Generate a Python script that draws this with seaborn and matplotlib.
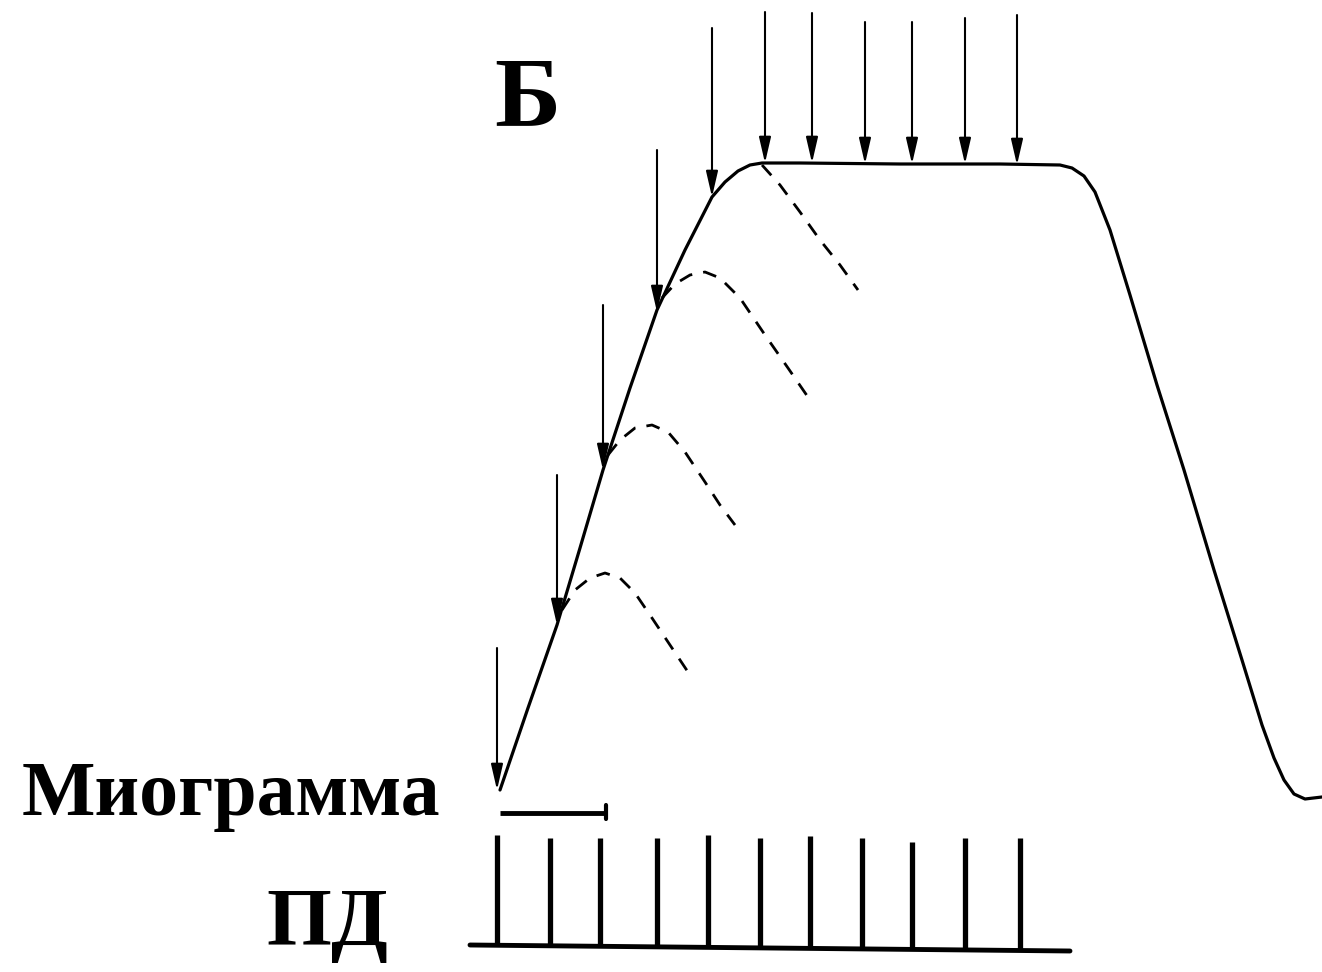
import matplotlib
matplotlib.use("Agg")
import seaborn as sns
import matplotlib.pyplot as plt

sns.set_theme(style="white")
plt.rcParams['font.family'] = ['Liberation Serif', 'DejaVu Serif']

# all coordinates are in image units (x right, y down), 1322 x 972
# myogram: summed tetanic contraction
myo_x = [500, 528, 557, 580, 603, 630, 657, 685, 712, 725, 738, 750, 762, 800, 900, 1000, 1060,
         1072, 1084, 1095, 1110, 1130, 1157, 1184, 1214, 1242, 1262, 1274, 1284, 1294, 1305, 1322]
myo_y = [790, 708, 625, 548, 470, 388, 310, 250, 197, 182, 171, 165, 163, 163, 164, 164, 165,
         168, 176, 192, 230, 295, 385, 470, 570, 660, 725, 758, 780, 794, 799, 797]

# single twitch decays (dashed)
tw1_x = [562, 575, 590, 605, 620, 635, 652, 670, 690]
tw1_y = [610, 590, 578, 573, 578, 593, 618, 645, 675]
tw2_x = [608, 620, 635, 652, 668, 685, 705, 720, 735]
tw2_y = [455, 440, 428, 425, 432, 452, 482, 505, 525]
tw3_x = [662, 675, 690, 705, 720, 740, 765, 788, 810]
tw3_y = [298, 284, 275, 272, 278, 298, 335, 368, 400]
tw4_x = [762, 780, 800, 820, 840, 858]
tw4_y = [165, 185, 212, 240, 265, 290]

# stimulus arrows: x, top, tip
arr_x = [497, 557, 603, 657, 712, 765, 812, 865, 912, 965, 1017]
arr_top = [648, 475, 305, 150, 28, 12, 13, 22, 22, 18, 15]
arr_tip = [790, 625, 470, 312, 197, 163, 163, 164, 164, 164, 165]

# action potentials (ПД)
pd_x = [497, 550, 600, 657, 708, 760, 810, 862, 912, 965, 1020]
pd_top = [835, 838, 838, 838, 835, 838, 836, 838, 842, 838, 838]
pd_base_x = [470, 1070]
pd_base_y = [945, 951]

fig = plt.figure(figsize=(13.22, 9.72), dpi=100)
ax = fig.add_axes([0, 0, 1, 1])
ax.set_xlim(0, 1322)
ax.set_ylim(972, 0)
ax.axis("off")

sns.lineplot(x=myo_x, y=myo_y, ax=ax, color="black", lw=2.3, sort=False,
             estimator=None, solid_joinstyle="round")
for tx, ty in [(tw1_x, tw1_y), (tw2_x, tw2_y), (tw3_x, tw3_y), (tw4_x, tw4_y)]:
    sns.lineplot(x=tx, y=ty, ax=ax, color="black", lw=2.0, sort=False,
                 estimator=None, linestyle=(0, (5, 4)))

for x, top, tip in zip(arr_x, arr_top, arr_tip):
    ax.annotate("", xy=(x, tip), xytext=(x, top),
                arrowprops=dict(arrowstyle="-|>,head_length=1.3,head_width=0.3",
                                color="black", lw=1.5, shrinkA=0, shrinkB=0))

# baseline bracket under myogram
ax.plot([500, 607], [813, 813], color="black", lw=3.5, solid_capstyle="butt")
ax.plot([606, 606], [805, 819], color="black", lw=3)

# ПД trace
ax.plot(pd_base_x, pd_base_y, color="black", lw=3.5)
for x, top in zip(pd_x, pd_top):
    base = pd_base_y[0] + (x - pd_base_x[0]) * (pd_base_y[1] - pd_base_y[0]) / (pd_base_x[1] - pd_base_x[0])
    ax.plot([x, x], [base, top], color="black", lw=3.8, solid_capstyle="butt")

ax.text(527, 125, "Б", fontsize=72, fontweight="bold", ha="center", va="baseline", color="black")
ax.text(231, 815, "Миограмма", fontsize=56, fontweight="bold", ha="center", va="baseline", color="black")
ax.text(328, 945, "ПД", fontsize=60, fontweight="bold", ha="center", va="baseline", color="black")

fig.savefig("out.png", dpi=100)
